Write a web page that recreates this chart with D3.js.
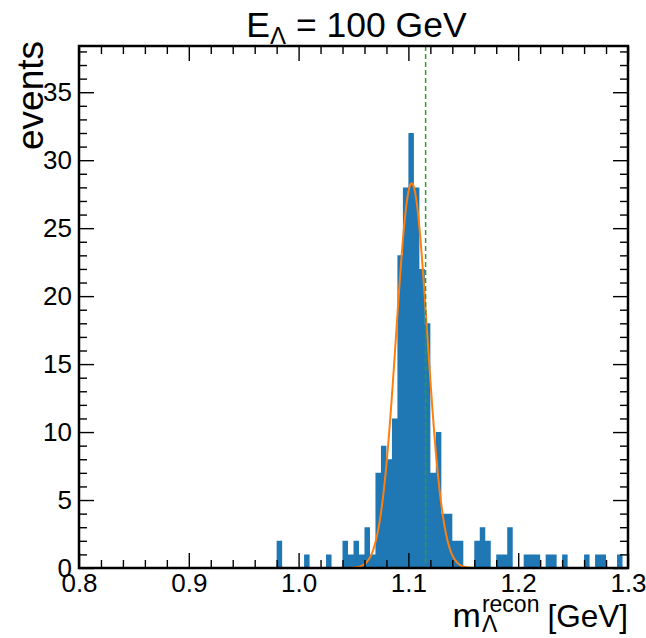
<!DOCTYPE html>
<html>
<head>
<meta charset="utf-8">
<script src="https://cdn.jsdelivr.net/npm/d3@7"></script>
<style>
  body { margin: 0; background: #fff; }
  svg text { font-family: "Liberation Sans", Arial, Helvetica, sans-serif; fill: #000; }
  .tick line { stroke: #000; stroke-width: 1.4; }
</style>
</head>
<body>
<div id="chart"></div>
<script>
// Reconstructed-mass histogram with a gaussian fit and the PDG Lambda mass line.
const X_MIN = 0.8, X_MAX = 1.3, BIN_W = 0.005;
const Y_MAX = 38.4;

// counts per 0.005 GeV bin, 0.800 .. 1.300 (100 bins)
const counts = [
  0, 0, 0, 0, 0, 0, 0, 0, 0, 0,
  0, 0, 0, 0, 0, 0, 0, 0, 0, 0,
  0, 0, 0, 0, 0, 0, 0, 0, 0, 0,
  0, 0, 0, 0, 0, 0, 2, 0, 0, 0,
  0, 1, 0, 0, 0, 1, 0, 0, 2, 1,
  2, 1, 3, 1, 7, 9, 8, 11, 23, 28,
  32, 28, 22, 18, 7, 10, 4, 4, 2, 2,
  0, 0, 2, 3, 2, 0, 1, 1, 3, 0,
  0, 1, 1, 1, 0, 1, 1, 0, 1, 0,
  0, 0, 1, 0, 1, 1, 0, 0, 1, 0
];

// gaussian fit parameters
const FIT_AMP = 28.3, FIT_MU = 1.103, FIT_SIGMA = 0.0142;
const M_LAMBDA = 1.115683;

const xMajor = [0.8, 0.9, 1.0, 1.1, 1.2, 1.3];
const yMajor = [0, 5, 10, 15, 20, 25, 30, 35];

const width = 646, height = 638;
const m = { top: 46, right: 18, bottom: 70, left: 79 };
const iW = width - m.left - m.right;
const iH = height - m.top - m.bottom;

const x = d3.scaleLinear([X_MIN, X_MAX], [0, iW]);
const y = d3.scaleLinear([0, Y_MAX], [iH, 0]);

const svg = d3.select("#chart").append("svg")
  .attr("width", width).attr("height", height);
const g = svg.append("g").attr("transform", `translate(${m.left},${m.top})`);

// histogram as a filled step
const steps = counts.map((c, i) => ({ x0: X_MIN + i * BIN_W, c }));
steps.push({ x0: X_MAX, c: counts[counts.length - 1] });
const area = d3.area().curve(d3.curveStepAfter)
  .x((d) => x(d.x0)).y0(y(0)).y1((d) => y(d.c));
g.append("path").datum(steps).attr("fill", "#1f77b4").attr("d", area);

// fit curve
const xs = d3.range(0, 1001).map((k) => X_MIN + (X_MAX - X_MIN) * k / 1000);
const gauss = (v) => FIT_AMP * Math.exp(-0.5 * ((v - FIT_MU) / FIT_SIGMA) ** 2);
g.append("path").datum(xs)
  .attr("fill", "none").attr("stroke", "#ff7f0e").attr("stroke-width", 2)
  .attr("d", d3.line().x((v) => x(v)).y((v) => y(gauss(v))));

// Lambda mass reference
g.append("line")
  .attr("x1", x(M_LAMBDA)).attr("x2", x(M_LAMBDA)).attr("y1", 0).attr("y2", iH)
  .attr("stroke", "#2ca02c").attr("stroke-width", 1.5).attr("stroke-dasharray", "5,3");

// inward ticks on all four sides
const xMinor = d3.range(0, 26).map((k) => X_MIN + k * 0.02).filter((v) => !xMajor.some((t) => Math.abs(t - v) < 1e-9));
const yMinor = d3.range(0, 39).filter((v) => v % 5 !== 0);
const MAJ = 15, MIN = 8;

function axes(gen, tr, ticks, size, fmt) {
  const a = g.append("g").attr("transform", tr)
    .call(gen.tickValues(ticks).tickSizeInner(-size).tickSizeOuter(0).tickPadding(5)
      .tickFormat(fmt || (() => "")));
  a.select(".domain").remove();
  return a;
}
axes(d3.axisBottom(x), `translate(0,${iH})`, xMajor, MAJ, d3.format(".1f"))
  .selectAll("text").attr("font-size", 26).attr("dy", "0.72em");
axes(d3.axisBottom(x), `translate(0,${iH})`, xMinor, MIN);
axes(d3.axisTop(x), "translate(0,0)", xMajor, MAJ);
axes(d3.axisTop(x), "translate(0,0)", xMinor, MIN);
axes(d3.axisLeft(y), "translate(0,0)", yMajor, MAJ, d3.format("d"))
  .selectAll("text").attr("font-size", 26).attr("x", -7);
axes(d3.axisLeft(y), "translate(0,0)", yMinor, MIN);
axes(d3.axisRight(y), `translate(${iW},0)`, yMajor, MAJ);
axes(d3.axisRight(y), `translate(${iW},0)`, yMinor, MIN);
g.selectAll(".tick text").attr("font-family", null);

// frame
g.append("rect").attr("width", iW).attr("height", iH)
  .attr("fill", "none").attr("stroke", "#000").attr("stroke-width", 2.5);

// title  E_Λ = 100 GeV
const title = svg.append("text").attr("x", m.left + iW / 2 + 3).attr("y", 37)
  .attr("text-anchor", "middle").attr("font-size", 35.5);
title.append("tspan").text("E");
title.append("tspan").attr("font-size", 24).attr("dy", 7).text("Λ");
title.append("tspan").attr("dy", -7).text(" = 100 GeV");

// y label
svg.append("text").attr("text-anchor", "end").attr("font-size", 37)
  .attr("transform", `translate(43,${m.top - 5}) rotate(-90)`).text("events");

// x label  m_Λ^recon [GeV], right aligned at the axis end
const xl = svg.append("g");
const base = 627;
const tm = xl.append("text").attr("y", base).attr("font-size", 34).text("m");
const wm = tm.node().getComputedTextLength();
const tsup = xl.append("text").attr("x", wm + 1).attr("y", base - 15).attr("font-size", 23).text("recon");
const tsub = xl.append("text").attr("x", wm + 1).attr("y", base + 5).attr("font-size", 23).text("Λ");
const wsc = Math.max(tsup.node().getComputedTextLength(), tsub.node().getComputedTextLength());
const tu = xl.append("text").attr("x", wm + 1 + wsc + 8).attr("y", base).attr("font-size", 31.5).text("[GeV]");
const total = wm + 1 + wsc + 8 + tu.node().getComputedTextLength();
xl.attr("transform", `translate(${m.left + iW - total},0)`);
</script>
</body>
</html>
